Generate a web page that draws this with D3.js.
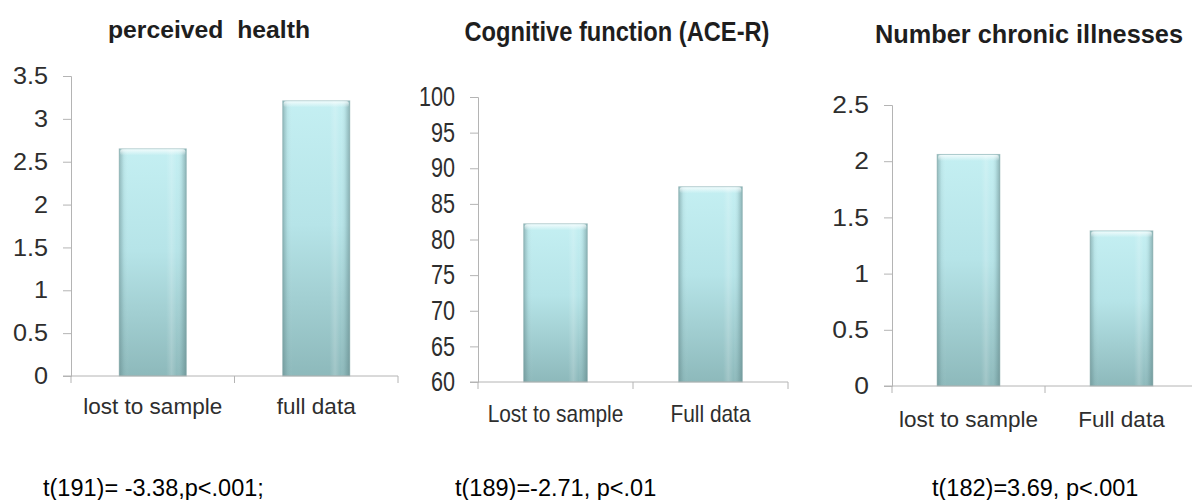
<!DOCTYPE html>
<html>
<head>
<meta charset="utf-8">
<script src="https://cdn.jsdelivr.net/npm/d3@7"></script>
<style>
  html, body { margin: 0; padding: 0; background: #fff; }
  svg { display: block; }
  text { font-family: "Liberation Sans", Arial, sans-serif; }
</style>
</head>
<body>
<svg id="chart" width="1192" height="500"></svg>
<script>
// ---------- data ----------
const titles = ["perceived  health", "Cognitive function (ACE-R)", "Number chronic illnesses"];
const stats = ["t(191)= -3.38,p<.001;", "t(189)=-2.71, p<.01", "t(182)=3.69, p<.001"];

const categories1 = ["lost to sample", "full data"];
const values1 = [2.65, 3.21];
const ticks1 = [0, 0.5, 1, 1.5, 2, 2.5, 3, 3.5];

const categories2 = ["Lost to sample", "Full data"];
const values2 = [82.2, 87.4];
const ticks2 = [60, 65, 70, 75, 80, 85, 90, 95, 100];

const categories3 = ["lost to sample", "Full data"];
const values3 = [2.06, 1.38];
const ticks3 = [0, 0.5, 1, 1.5, 2, 2.5];

// ---------- layout / style (not data) ----------
const panels = [
  { cats: categories1, vals: values1, ticks: ticks1, title: titles[0], stat: stats[0],
    x0: 71, x1: 398, yBottom: 376, yTop: 76, barFrac: 0.41,
    titleX: 209, titleY: 38, titleSize: 24, titleLen: 202,
    yLabSize: 24, yLabSx: 1.05, catSize: 22.5, catSx: 1, catY: 38,
    statX: 43, statY: 496 },
  { cats: categories2, vals: values2, ticks: ticks2, title: titles[1], stat: stats[1],
    x0: 478, x1: 788, yBottom: 382, yTop: 97, barFrac: 0.41,
    titleX: 617, titleY: 41, titleSize: 27, titleLen: 305,
    yLabSize: 27, yLabSx: 0.8, catSize: 24, catSx: 0.87, catY: 40,
    statX: 455, statY: 496 },
  { cats: categories3, vals: values3, ticks: ticks3, title: titles[2], stat: stats[2],
    x0: 892, x1: 1198, yBottom: 386, yTop: 105, barFrac: 0.41,
    titleX: 1029, titleY: 43, titleSize: 25, titleLen: 308,
    yLabSize: 24, yLabSx: 1.1, catSize: 22.5, catSx: 1, catY: 41,
    statX: 932, statY: 496 }
];

const svg = d3.select("#chart");
const defs = svg.append("defs");

// vertical body gradient
const gv = defs.append("linearGradient").attr("id", "barV")
  .attr("x1", 0).attr("y1", 0).attr("x2", 0).attr("y2", 1);
gv.append("stop").attr("offset", "0%").attr("stop-color", "#c4eff2");
gv.append("stop").attr("offset", "45%").attr("stop-color", "#b6e4e8");
gv.append("stop").attr("offset", "100%").attr("stop-color", "#8db9bb");

// horizontal shading (edges)
const gh = defs.append("linearGradient").attr("id", "barH")
  .attr("x1", 0).attr("y1", 0).attr("x2", 1).attr("y2", 0);
[["0%", "#587a7c", 0.45], ["7%", "#587a7c", 0.08], ["15%", "#ffffff", 0.0],
 ["70%", "#ffffff", 0.0], ["78%", "#ffffff", 0.18], ["86%", "#ffffff", 0.0],
 ["93%", "#587a7c", 0.12], ["100%", "#587a7c", 0.5]].forEach(s => {
  gh.append("stop").attr("offset", s[0]).attr("stop-color", s[1]).attr("stop-opacity", s[2]);
});

// top highlight
const gt = defs.append("linearGradient").attr("id", "barT")
  .attr("x1", 0).attr("y1", 0).attr("x2", 0).attr("y2", 1);
gt.append("stop").attr("offset", "0%").attr("stop-color", "#ffffff").attr("stop-opacity", 0.75);
gt.append("stop").attr("offset", "100%").attr("stop-color", "#ffffff").attr("stop-opacity", 0);

const axisColor = "#b4b4b4";

panels.forEach(p => {
  const g = svg.append("g");
  const x = d3.scaleBand().domain(p.cats).range([p.x0, p.x1]).paddingInner(0).paddingOuter(0);
  const y = d3.scaleLinear().domain([p.ticks[0], p.ticks[p.ticks.length - 1]]).range([p.yBottom, p.yTop]);
  const bw = x.bandwidth() * p.barFrac;

  // bars
  const bars = g.selectAll("g.bar").data(p.cats.map((c, i) => ({ c, v: p.vals[i] })))
    .enter().append("g").attr("class", "bar");
  bars.append("rect")
    .attr("x", d => x(d.c) + (x.bandwidth() - bw) / 2)
    .attr("y", d => y(d.v))
    .attr("width", bw)
    .attr("height", d => y(p.ticks[0]) - y(d.v))
    .attr("fill", "url(#barV)");
  bars.append("rect")
    .attr("x", d => x(d.c) + (x.bandwidth() - bw) / 2)
    .attr("y", d => y(d.v))
    .attr("width", bw)
    .attr("height", d => y(p.ticks[0]) - y(d.v))
    .attr("fill", "url(#barH)")
    .attr("stroke", "#7fa4a6").attr("stroke-opacity", 0.55).attr("stroke-width", 1);
  bars.append("rect")
    .attr("x", d => x(d.c) + (x.bandwidth() - bw) / 2 + 1)
    .attr("y", d => y(d.v) + 0.5)
    .attr("width", bw - 2)
    .attr("height", 6)
    .attr("rx", 2)
    .attr("fill", "url(#barT)");

  // y axis
  const yAxis = g.append("g").attr("transform", `translate(${p.x0},0)`)
    .call(d3.axisLeft(y).tickValues(p.ticks).tickSize(8).tickPadding(15).tickFormat(d3.format("")));
  yAxis.select(".domain").attr("stroke", axisColor);
  yAxis.selectAll(".tick line").attr("stroke", axisColor);
  yAxis.selectAll(".tick text")
    .attr("font-size", p.yLabSize).attr("fill", "#2e2e2e")
    .attr("font-family", "Liberation Sans, Arial, sans-serif")
    .attr("x", -23 / p.yLabSx)
    .attr("transform", `scale(${p.yLabSx},1)`);

  // x axis: baseline with boundary ticks
  const xAxis = g.append("g").attr("transform", `translate(0,${p.yBottom})`)
    .call(d3.axisBottom(x).tickSize(0).tickPadding(p.catY - 16));
  xAxis.select(".domain").remove();
  xAxis.append("line").attr("x1", p.x0 - 8).attr("x2", p.x1).attr("y1", 0).attr("y2", 0)
    .attr("stroke", axisColor);
  const bounds = p.cats.map(c => x(c)).concat([x(p.cats[p.cats.length - 1]) + x.bandwidth()]);
  xAxis.selectAll("line.bound").data(bounds).enter().append("line").attr("class", "bound")
    .attr("x1", d => d).attr("x2", d => d).attr("y1", 0).attr("y2", 7).attr("stroke", axisColor);
  xAxis.selectAll(".tick text")
    .attr("font-size", p.catSize).attr("fill", "#2e2e2e")
    .attr("font-family", "Liberation Sans, Arial, sans-serif")
    .attr("y", null).attr("dy", null)
    .attr("transform", `translate(0,${p.catY}) scale(${p.catSx},1)`);

  // title
  g.append("text")
    .attr("x", p.titleX).attr("y", p.titleY)
    .attr("text-anchor", "middle")
    .attr("font-size", p.titleSize).attr("font-weight", "bold").attr("fill", "#1e1e1e")
    .attr("textLength", p.titleLen).attr("lengthAdjust", "spacingAndGlyphs")
    .style("white-space", "pre")
    .text(p.title);

  // stat text
  g.append("text")
    .attr("x", p.statX).attr("y", p.statY)
    .attr("font-size", 23.5).attr("fill", "#000")
    .text(p.stat);
});
</script>
</body>
</html>
